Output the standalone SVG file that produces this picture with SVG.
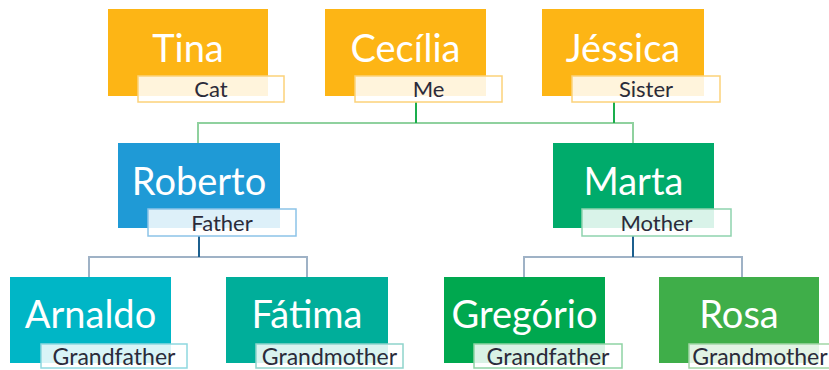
<svg xmlns="http://www.w3.org/2000/svg" width="829" height="370" viewBox="0 0 829 370">
  <style>
    .name { font-family: Lato, "Open Sans", "Liberation Sans", sans-serif; font-size: 38px; fill: #ffffff; text-anchor: middle; }
    .role { font-family: Lato, "Open Sans", "Liberation Sans", sans-serif; font-size: 22px; fill: #2b2b3a; text-anchor: middle; }
    .role.low { font-size: 23px; }
    .tag { fill: #ffffff; fill-opacity: 0.85; stroke-width: 1.5; }
    .wire { fill: none; stroke-width: 2; }
  </style>

  <!-- connectors -->
  <g id="connectors">
    <path class="wire" stroke="#8fd19e" d="M198 143 V123 H633 V143"/>
    <path class="wire" stroke="#1aae4c" d="M416 102 V123 M614 102 V123"/>
    <path class="wire" stroke="#9fb2c6" d="M89 277 V257 H307 V277 M524 277 V257 H742 V277"/>
    <path class="wire" stroke="#1c5f8e" d="M199 236 V257 M633 236 V257"/>
  </g>

  <!-- top row -->
  <g id="tina">
    <rect x="108" y="9" width="160" height="87" fill="#fdb515"/>
    <text class="name" x="188" y="62">Tina</text>
    <rect class="tag" x="138" y="76" width="146" height="26" stroke="#fcd27a"/>
    <text class="role" x="211" y="97">Cat</text>
  </g>
  <g id="cecilia">
    <rect x="325" y="9" width="161" height="87" fill="#fdb515"/>
    <text class="name" x="405.5" y="62">Cecília</text>
    <rect class="tag" x="355" y="76" width="147" height="26" stroke="#fcd27a"/>
    <text class="role" x="428.5" y="97">Me</text>
  </g>
  <g id="jessica">
    <rect x="542" y="9" width="162" height="87" fill="#fdb515"/>
    <text class="name" x="623" y="62">Jéssica</text>
    <rect class="tag" x="572" y="76" width="148" height="26" stroke="#fcd27a"/>
    <text class="role" x="646" y="97">Sister</text>
  </g>

  <!-- parents -->
  <g id="roberto">
    <rect x="118" y="143" width="162" height="85" fill="#1f9ad6"/>
    <text class="name" x="199" y="195">Roberto</text>
    <rect class="tag" x="148" y="209" width="148" height="27" stroke="#8cc3e8"/>
    <text class="role" x="222" y="231">Father</text>
  </g>
  <g id="marta">
    <rect x="553" y="143" width="161" height="85" fill="#00ab6b"/>
    <text class="name" x="633.5" y="195">Marta</text>
    <rect class="tag" x="582" y="209" width="149" height="27" stroke="#8fd3ae"/>
    <text class="role" x="656.5" y="231">Mother</text>
  </g>

  <!-- grandparents -->
  <g id="arnaldo">
    <rect x="10" y="277" width="161" height="86" fill="#00b6c6"/>
    <text class="name" x="90.5" y="328">Arnaldo</text>
    <rect class="tag" x="41" y="344" width="146" height="24" stroke="#8fd8df"/>
    <text class="role low" x="114" y="365">Grandfather</text>
  </g>
  <g id="fatima">
    <rect x="226" y="277" width="162" height="86" fill="#00ae9a"/>
    <text class="name" x="307" y="328">Fátima</text>
    <rect class="tag" x="256" y="344" width="147" height="24" stroke="#8fd4cb"/>
    <text class="role low" x="329.5" y="365">Grandmother</text>
  </g>
  <g id="gregorio">
    <rect x="444" y="277" width="161" height="86" fill="#00a84f"/>
    <text class="name" x="524.5" y="328">Gregório</text>
    <rect class="tag" x="474" y="344" width="148" height="24" stroke="#8fd3a4"/>
    <text class="role low" x="548" y="365">Grandfather</text>
  </g>
  <g id="rosa">
    <rect x="659" y="277" width="160" height="86" fill="#3fae49"/>
    <text class="name" x="739" y="328">Rosa</text>
    <rect class="tag" x="689" y="344" width="148" height="24" stroke="#a3d6a6"/>
    <text class="role low" x="760" y="365">Grandmother</text>
  </g>
</svg>
